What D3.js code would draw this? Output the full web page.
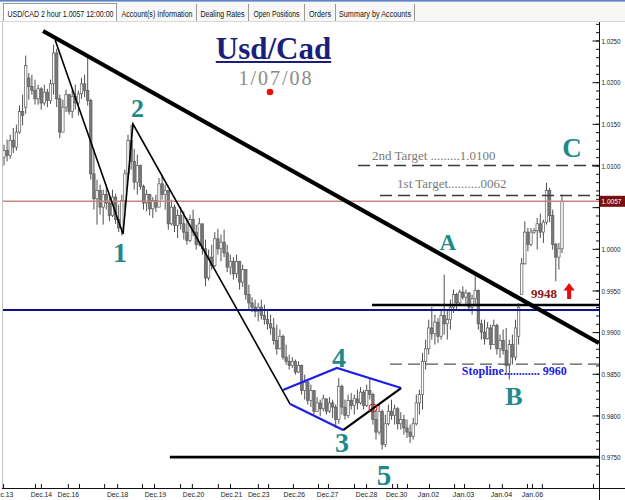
<!DOCTYPE html>
<html><head><meta charset="utf-8">
<script src="https://cdn.jsdelivr.net/npm/d3@7"></script>
<style>html,body{margin:0;padding:0;background:#fff;overflow:hidden}</style>
</head><body>
<svg id="c" width="625" height="500"></svg>
<script>
// ---- DATA (prices in pips, 2-hour bars) [open, high, low, close]
const ohlc = [
[10110,10125,10100,10118],[10118,10131,10105,10112],[10112,10137,10108,10130],[10130,10145,10115,10122],
[10122,10149,10118,10140],[10140,10172,10138,10165],[10165,10185,10148,10160],[10170,10232,10162,10220],
[10205,10211,10179,10195],[10195,10209,10185,10190],[10190,10203,10173,10180],[10180,10197,10173,10192],
[10192,10194,10167,10175],[10175,10197,10172,10188],[10188,10192,10170,10178],[10178,10203,10174,10198],
[10198,10245,10185,10235],[10235,10240,10170,10180],[10180,10185,10133,10140],[10140,10179,10140,10170],
[10170,10191,10164,10185],[10185,10186,10161,10165],[10165,10191,10157,10183],[10183,10197,10167,10175],
[10175,10190,10160,10186],[10186,10205,10180,10198],[10198,10209,10182,10190],[10190,10229,10172,10178],
[10178,10180,10083,10090],[10090,10120,10047,10060],[10060,10083,10029,10070],[10070,10077,10041,10050],
[10050,10071,10029,10065],[10065,10077,10047,10055],[10055,10065,10033,10040],[10040,10071,10038,10062],
[10062,10066,10030,10035],[10035,10053,10020,10025],[10025,10065,10016,10058],[10058,10095,10047,10090],
[10090,10137,10083,10130],[10130,10149,10095,10105],[10105,10120,10071,10080],[10080,10113,10065,10100],
[10100,10101,10071,10075],[10075,10077,10047,10055],[10055,10071,10045,10065],[10065,10066,10040,10048],
[10048,10062,10037,10058],[10058,10065,10044,10050],[10050,10085,10050,10078],[10078,10089,10059,10065],
[10065,10077,10047,10070],[10070,10070,10023,10030],[10030,10059,10028,10050],[10050,10053,10020,10028],
[10028,10047,10013,10040],[10040,10050,10023,10030],[10030,10045,10011,10020],[10020,10037,10005,10010],
[10010,10041,10008,10035],[10035,10047,10015,10020],[10020,10029,9999,10005],[10005,10037,10003,10030],
[10030,10030,9993,10000],[10000,10011,9955,9965],[9965,9999,9962,9990],[9990,10005,9975,9980],
[9980,10020,9978,10012],[10012,10024,9993,10000],[10000,10017,9985,10008],[10008,10023,9990,9995],
[9995,10005,9972,9978],[9978,9993,9969,9985],[9985,9990,9963,9970],[9970,9993,9965,9985],
[9985,9985,9951,9960],[9960,9981,9954,9975],[9975,9975,9939,9945],[9945,9957,9927,9935],
[9935,9942,9924,9930],[9930,9939,9918,9925],[9925,9935,9913,9930],[9930,9939,9915,9920],
[9920,9933,9909,9915],[9915,9927,9903,9910],[9910,9921,9897,9905],[9905,9917,9885,9890],
[9890,9909,9873,9880],[9880,9903,9879,9895],[9895,9897,9867,9870],[9870,9885,9861,9865],
[9865,9873,9855,9860],[9860,9870,9857,9865],[9865,9867,9849,9852],[9852,9865,9851,9860],
[9860,9861,9825,9830],[9830,9849,9819,9840],[9840,9843,9813,9818],[9818,9837,9810,9830],
[9830,9830,9801,9805],[9805,9822,9804,9815],[9815,9819,9799,9808],[9808,9825,9805,9820],
[9820,9820,9801,9805],[9805,9822,9803,9815],[9815,9819,9797,9810],[9810,9813,9785,9795],
[9795,9845,9790,9835],[9835,9837,9801,9810],[9810,9819,9795,9800],[9800,9825,9797,9818],
[9818,9827,9807,9812],[9812,9825,9801,9820],[9820,9831,9807,9815],[9815,9834,9813,9828],
[9828,9831,9807,9812],[9812,9837,9810,9830],[9830,9845,9819,9825],[9825,9827,9789,9795],
[9795,9807,9771,9780],[9780,9813,9777,9805],[9805,9807,9759,9765],[9765,9801,9762,9790],
[9790,9813,9788,9805],[9805,9819,9795,9800],[9800,9813,9789,9808],[9808,9810,9783,9790],
[9790,9804,9783,9795],[9795,9801,9777,9785],[9785,9795,9773,9780],[9780,9789,9767,9775],
[9775,9797,9771,9790],[9790,9825,9788,9815],[9815,9831,9801,9825],[9825,9875,9807,9865],
[9865,9891,9855,9880],[9880,9915,9873,9905],[9905,9930,9891,9898],[9898,9921,9885,9912],
[9912,9917,9887,9895],[9895,9927,9891,9920],[9920,9969,9897,9910],[9910,9927,9891,9915],
[9915,9939,9903,9930],[9930,9951,9923,9945],[9945,9947,9927,9935],[9935,9951,9933,9948],
[9948,9955,9939,9942],[9942,9951,9933,9947],[9947,9948,9925,9930],[9930,9945,9921,9940],
[9940,9967,9933,9950],[9950,9951,9903,9910],[9910,9915,9891,9900],[9900,9915,9885,9892],
[9892,9912,9891,9905],[9905,9909,9879,9885],[9885,9915,9885,9908],[9908,9910,9873,9880],
[9880,9897,9869,9890],[9890,9903,9873,9878],[9878,9905,9849,9860],[9860,9891,9843,9885],
[9885,9897,9861,9870],[9870,9915,9866,9905],[9895,9935,9885,9930],[9945,9989,9945,9982],
[9982,10033,9981,10020],[10020,10025,9997,10005],[10005,10025,10003,10020],[10020,10025,10018,10022],
[10022,10037,9999,10030],[10030,10042,10013,10020],[10020,10035,10007,10032],[10032,10079,10029,10070],
[10070,10073,10032,10040],[10040,10047,9999,10005],[10005,10007,9961,9990],[9990,10007,9975,10000],
[10000,10065,9995,10057]
];
const priceTicks = [0.9750,0.9800,0.9850,0.9900,0.9950,1.0000,1.0050,1.0100,1.0150,1.0200,1.0250];
const lastPrice = 1.0057;
const dayLabels = ["Dec.13","Dec.14","Dec.16","Dec.18","Dec.19","Dec.20","Dec.21","Dec.23","Dec.26","Dec.27","Dec.28","Dec.30","Jan.02","Jan.03","Jan.04","Jan.06"];
const dayLabelPos = [-0.6,11.9,20.6,36.5,48.7,61,73.2,82,93.5,104.2,116.8,126.5,136.8,148.1,160.3,170.3];
const tickPos = [-0.3,10,11.9,20.6,24.2,32.3,36.5,44.5,48.4,56.8,60.6,69,72.9,81.9,85.2,93.2,101.3,104.5,112.9,116.8,125.2,126.8,130,137.1,145.2,148.4,156.5,160.6,168.7,170.3,173.5,190];
// annotation geometry in (bar index, price)
const trendLine = [[12.6,1.02614],[191.9,0.98869]];
const wavePath = [[16.5,1.02506],[38.4,1.00178],[41.6,1.01498],[92.3,0.98137]];
const diamondTop = [[90,0.98305],[107.4,0.98569],[128.1,0.98329]];
const diamondBottom = [[92.3,0.98137],[109.4,0.97825]];
const diamondBlack = [[109.4,0.97825],[128.1,0.98329]];
const levels = [
  {p:1.0057,  from:-1,    color:"#c9857a", w:1.5, dash:null},
  {p:0.99265, from:-1,    color:"#12128a", w:2,   dash:null},
  {p:0.99325, from:118.7, color:"#000",    w:2.6, dash:null},
  {p:0.9750,  from:53.5,  color:"#000",    w:2.6, dash:null},
  {p:1.0100,  from:114.2, color:"#3a3a3a", w:1.3, dash:"12,6"},
  {p:1.0064,  from:121.3, color:"#3a3a3a", w:1.3, dash:"12,6"},
  {p:0.98617, from:124.5, color:"#555",    w:1.3, dash:"12,6"}
];
const waveLabels = [
  {t:"1", i:37.4, p:0.99841, s:28},{t:"2", i:43.1, p:1.01582, s:26},
  {t:"3", i:109,  p:0.97561, s:28},{t:"4", i:108.1,p:0.98581, s:28},
  {t:"5", i:122.6,p:0.97165, s:29},{t:"A", i:143.2,p:0.99986, s:23},
  {t:"B", i:164.5,p:0.98125, s:26},{t:"C", i:183.2,p:1.01102, s:27}
];
const notes = [
  {t:"2nd Target .........1.0100", i:118.7, p:1.01066, s:13, c:"#7a7a7a", b:false},
  {t:"1st Target..........0062", i:126.8, p:1.00730, s:13, c:"#7a7a7a", b:false},
  {t:"9948", i:170, p:0.99409, s:13, c:"#8e1414", b:true},
  {t:"Stopline............ 9960", i:147.7, p:0.98485, s:12, c:"#1c1ce0", b:true}
];
const arrow = {i:182.3, top:0.99589, bottom:0.99397};
const circle = {i:119, p:0.98089};
const tabs = ["USD/CAD 2 hour 1.0057 12:00:00","Account(s) Information","Dealing Rates","Open Positions","Orders","Summary by Accounts"];

// ---- LAYOUT
const svg = d3.select("#c");
const x = d3.scaleLinear().domain([0,180]).range([4,562]);
const y = d3.scaleLinear().domain([0.975,1.025]).range([457.1,40.5]);
const SERIF = "'Liberation Serif','Times New Roman',serif";
const SANS = "'Liberation Sans',Arial,sans-serif";

svg.append("rect").attr("width",625).attr("height",500).attr("fill","#fff");

// header tabs
const hdr = svg.append("g");
hdr.append("rect").attr("x",0).attr("y",0).attr("width",625).attr("height",22).attr("fill","#f7f7f5");
hdr.append("rect").attr("x",0).attr("y",0).attr("width",625).attr("height",1.6).attr("fill","#5a86c8");
const tabEdges = [3,117,196,248,304,335,414];
const tabTextW = [106,71,44,46,22,72];
hdr.append("rect").attr("x",3.5).attr("y",3.5).attr("width",113).attr("height",18).attr("fill","#fff").attr("stroke","#9a9a9a").attr("stroke-width",1);
tabs.forEach((t,k)=>{
  const x0 = tabEdges[k], x1 = tabEdges[k+1];
  if (k>0) {
    hdr.append("line").attr("x1",x1+0.5).attr("x2",x1+0.5).attr("y1",4).attr("y2",21).attr("stroke","#9a9a9a");
  }
  hdr.append("g").attr("transform",`translate(${(x0+x1)/2+0.5},16.5) scale(1,1.3)`)
    .append("text").attr("x",0).attr("y",0).attr("text-anchor","middle")
    .attr("font-family",SANS).attr("font-size",7.3).attr("fill","#111")
    .attr("textLength",tabTextW[k]).attr("lengthAdjust","spacingAndGlyphs").text(t);
});
hdr.append("line").attr("x1",0).attr("x2",625).attr("y1",21.5).attr("y2",21.5).attr("stroke","#d8d8d8");

// chart frame
svg.append("line").attr("x1",2.5).attr("x2",2.5).attr("y1",22).attr("y2",488).attr("stroke","#c4c4c4");

svg.append("clipPath").attr("id","pc").append("rect").attr("x",3).attr("y",22).attr("width",596).attr("height",466);
const plot = svg.append("g").attr("clip-path","url(#pc)");

// candles
const P = v => v/10000;
const cg = plot.append("g");
cg.selectAll("line").data(ohlc).join("line")
  .attr("x1",(d,i)=>x(i)).attr("x2",(d,i)=>x(i))
  .attr("y1",d=>y(P(d[1]))).attr("y2",d=>y(P(d[2])))
  .attr("stroke","#505050").attr("stroke-width",1);
cg.selectAll("rect").data(ohlc).join("rect")
  .attr("x",(d,i)=>x(i)-1.2).attr("width",2.4)
  .attr("y",d=>y(P(Math.max(d[0],d[3]))))
  .attr("height",d=>Math.max(1,Math.abs(y(P(d[0]))-y(P(d[3])))))
  .attr("fill",d=>d[3]>=d[0]?"#fff":"#7a7a7a")
  .attr("stroke","#5a5a5a").attr("stroke-width",0.7);

// levels
const xEnd = x.invert(599);
plot.selectAll("line.lvl").data(levels).join("line").attr("class","lvl")
  .attr("x1",d=>x(d.from)).attr("x2",x(xEnd))
  .attr("y1",d=>y(d.p)).attr("y2",d=>y(d.p))
  .attr("stroke",d=>d.color).attr("stroke-width",d=>d.w)
  .attr("stroke-dasharray",d=>d.dash);

// lines
const ln = d3.line().x(d=>x(d[0])).y(d=>y(d[1]));
plot.append("path").attr("d",ln(wavePath)).attr("fill","none").attr("stroke","#000").attr("stroke-width",1.6);
plot.append("path").attr("d",ln(diamondTop)).attr("fill","none").attr("stroke","#1f1fe6").attr("stroke-width",2.2);
plot.append("path").attr("d",ln(diamondBottom)).attr("fill","none").attr("stroke","#1f1fe6").attr("stroke-width",2.2);
plot.append("path").attr("d",ln(diamondBlack)).attr("fill","none").attr("stroke","#000").attr("stroke-width",2.2);
plot.append("path").attr("d",ln(trendLine)).attr("fill","none").attr("stroke","#000").attr("stroke-width",4.2);
plot.append("circle").attr("cx",x(circle.i)).attr("cy",y(circle.p)).attr("r",4).attr("fill","none").attr("stroke","#e01010").attr("stroke-width",1);

// wave labels
plot.selectAll("text.wl").data(waveLabels).join("text").attr("class","wl")
  .attr("x",d=>x(d.i)).attr("y",d=>y(d.p)).attr("text-anchor","middle")
  .attr("font-family",SERIF).attr("font-weight","bold").attr("font-size",d=>d.s)
  .attr("fill","#21898a").text(d=>d.t);
plot.selectAll("text.nt").data(notes).join("text").attr("class","nt")
  .attr("x",d=>x(d.i)).attr("y",d=>y(d.p))
  .attr("font-family",SERIF).attr("font-weight",d=>d.b?"bold":"normal").attr("font-size",d=>d.s)
  .attr("fill",d=>d.c).text(d=>d.t);
// arrow
{
  const ax = x(arrow.i), yt = y(arrow.top), yb = y(arrow.bottom);
  const hh = 7.5;
  plot.append("path").attr("d",`M${ax},${yt} L${ax+5.6},${yt+hh} L${ax+2},${yt+hh} L${ax+2},${yb} L${ax-2},${yb} L${ax-2},${yt+hh} L${ax-5.6},${yt+hh} Z`)
    .attr("fill","#e80c0c");
}

// title
const tt = svg.append("text").attr("x",273.5).attr("y",59).attr("text-anchor","middle")
  .attr("font-family",SERIF).attr("font-weight","bold").attr("font-size",31).attr("fill","#1b1f7a").text("Usd/Cad");
const bb = tt.node().getBBox();
svg.append("line").attr("x1",bb.x).attr("x2",bb.x+bb.width).attr("y1",62).attr("y2",62).attr("stroke","#1b1f7a").attr("stroke-width",2);
svg.append("text").attr("x",276).attr("y",84.5).attr("text-anchor","middle").attr("letter-spacing",2)
  .attr("font-family",SERIF).attr("font-size",20).attr("fill","#8a8a8a").text("1/07/08");
svg.append("circle").attr("cx",270).attr("cy",92).attr("r",3.3).attr("fill","#ee0d0d");

// axes
svg.append("line").attr("x1",2).attr("x2",625).attr("y1",488.5).attr("y2",488.5).attr("stroke","#111");
svg.append("line").attr("x1",599.5).attr("x2",599.5).attr("y1",22).attr("y2",500).attr("stroke","#111");
const minorTicks = d3.range(9730, 10275, 10).map(P);
svg.append("g").attr("transform","translate(599.5,0)")
  .call(d3.axisRight(y).tickValues(minorTicks).tickSize(-3.5).tickFormat(""))
  .call(g=>{g.select(".domain").remove(); g.selectAll("line").attr("stroke","#111");});
svg.append("g").attr("transform","translate(599.5,0)")
  .call(d3.axisRight(y).tickValues(priceTicks).tickSize(-7).tickPadding(2)
    .tickFormat(d => Math.abs(d-lastPrice) < 0.001 ? "" : d3.format(".4f")(d)))
  .call(g=>{g.select(".domain").remove(); g.selectAll("line").attr("stroke","#111");
    g.selectAll("text").filter(function(){return this.textContent!=="";})
     .attr("font-family",SANS).attr("font-size",8).attr("fill","#222")
     .attr("textLength",19).attr("lengthAdjust","spacingAndGlyphs");});
// last price box
svg.append("rect").attr("x",600).attr("y",y(lastPrice)-5.5).attr("width",25).attr("height",11).attr("fill","#7a0d0d");
svg.append("text").attr("x",601.5).attr("y",y(lastPrice)+3).attr("font-family",SANS).attr("font-size",8)
  .attr("fill","#fff").attr("textLength",20).attr("lengthAdjust","spacingAndGlyphs").text(d3.format(".4f")(lastPrice));

svg.append("g").attr("transform","translate(0,488.5)")
  .call(d3.axisBottom(x).tickValues(tickPos).tickSize(-4.5).tickFormat(""))
  .call(g=>{g.select(".domain").remove(); g.selectAll("line").attr("stroke","#111");});
svg.append("g").attr("transform","translate(0,488.5)")
  .call(d3.axisBottom(x).tickValues(dayLabelPos).tickSize(0).tickPadding(3).tickFormat((d,i)=>dayLabels[i]))
  .call(g=>{g.select(".domain").remove();
    g.selectAll("text").attr("font-family",SANS).attr("font-size",8).attr("fill","#222")
     .attr("textLength",21.5).attr("lengthAdjust","spacingAndGlyphs");});
</script>
</body></html>
